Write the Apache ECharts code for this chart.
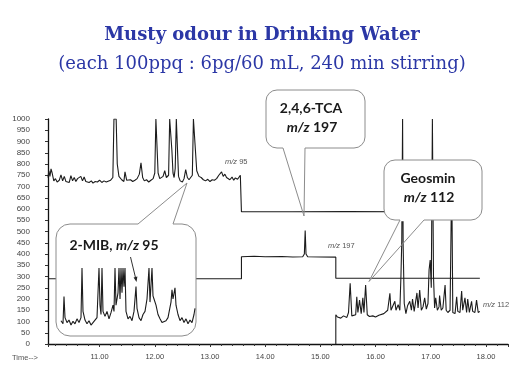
<!DOCTYPE html>
<html>
<head>
<meta charset="utf-8">
<script src="https://cdn.jsdelivr.net/npm/echarts@6/dist/echarts.min.js"></script>
<style>html,body{margin:0;padding:0;background:#fff;}#c{width:524px;height:380px;}</style>
</head>
<body>
<div id="c"></div>
<script>
// ---------- Data ----------
const titleText = 'Musty odour in Drinking Water';
const subtitleText = '(each 100ppq : 6pg/60 mL, 240 min stirring)';

// m/z 95 trace (2-MIB channel), time in min, abundance
const mz95Time = [10.065,10.08,10.10,10.12,10.14,10.17,10.20,10.23,10.27,10.30,
  10.33,10.36,10.39,10.42,10.45,10.48,10.51,10.54,10.57,10.60,
  10.63,10.66,10.69,10.72,10.75,10.78,10.81,10.85,10.88,10.92,
  10.96,11.00,11.04,11.08,11.12,11.15,11.20,11.24,11.26,11.30,
  11.32,11.35,11.40,11.44,11.46,11.49,11.52,11.56,11.60,11.64,
  11.68,11.72,11.75,11.78,11.81,11.85,11.89,11.93,11.97,12.00,
  12.02,12.04,12.06,12.09,12.12,12.15,12.18,12.21,12.25,12.27,
  12.29,12.31,12.33,12.35,12.37,12.39,12.41,12.43,12.46,12.50,
  12.53,12.56,12.59,12.62,12.65,12.68,12.70,12.73,12.76,12.80,
  12.84,12.88,12.92,12.96,13.00,13.04,13.08,13.12,13.16,13.21,
  13.24,13.27,13.30,13.33,13.36,13.40,13.43,13.46,13.50,13.53,
  13.55,13.57,13.57,14.50,15.50,16.50,17.89];
const mz95Value = [740,770,745,778,760,725,735,720,728,752,
  725,745,722,730,718,748,725,740,722,735,
  728,745,725,742,722,730,718,725,715,722,
  720,728,718,725,720,722,728,740,1000,1000,
  800,745,730,722,765,728,725,730,722,728,
  735,755,805,740,725,730,720,728,735,760,
  1000,1000,760,735,730,745,770,740,750,1000,
  1000,860,760,740,780,1000,1000,745,725,720,
  735,775,740,730,735,750,1000,1000,770,745,
  740,730,725,732,722,730,728,735,750,765,
  745,755,740,748,730,742,728,738,732,735,
  750,745,588,588,589,588,588];

// m/z 197 trace (2,4,6-TCA channel)
const tcaTime = [10.065,13.57,13.57,13.80,14.00,14.30,14.50,14.68,14.71,14.725,14.74,14.77,15.00,15.28,15.28,17.89];
const tcaValue = [290,290,388,390,388,389,387,388,400,504,400,388,387,386,292,292];

// m/z 112 trace (Geosmin channel)
const geoTime = [15.28,15.28,15.31,15.37,15.42,15.48,15.51,15.54,15.57,15.60,
  15.64,15.66,15.68,15.71,15.74,15.77,15.79,15.82,15.85,15.89,
  15.95,16.00,16.06,16.09,16.15,16.18,16.22,16.26,16.28,16.31,
  16.35,16.37,16.41,16.44,16.46,16.475,16.49,16.50,16.52,16.55,
  16.58,16.62,16.65,16.67,16.70,16.75,16.77,16.80,16.83,16.86,
  16.89,16.92,16.95,16.97,16.99,17.01,17.03,17.05,17.07,17.09,
  17.12,17.15,17.16,17.19,17.22,17.26,17.28,17.31,17.35,17.38,
  17.40,17.44,17.47,17.49,17.53,17.56,17.58,17.62,17.65,17.67,
  17.70,17.74,17.76,17.80,17.83,17.86,17.89];
const geoValue = [0,130,120,115,125,118,140,270,125,120,
  130,210,140,195,135,205,140,262,130,122,
  125,120,128,125,135,140,150,225,150,145,
  190,150,175,150,300,455,1000,440,180,135,
  170,190,150,200,145,227,160,240,150,165,
  205,155,180,330,373,250,1000,300,160,205,
  150,165,215,150,160,262,150,140,150,750,
  140,135,210,145,140,235,150,205,140,200,
  140,190,145,140,195,140,145];

// Inset (magnified 2-MIB m/z 95 region), relative position / relative height (100 = clipped)
const insetX = [0,2,3,4,6,8,10,12,14,16,18,20,21,22,24,26,28,30,32,34,
  36,38,39,40,41,42,44,46,48,50,52,53,54,55,57,58,59,60,61,62,
  63,64,65,67,69,71,73,75,76,78,80,82,84,86,88,89,91,92,93,95,
  97,99,101,103,105,107,110,111,112,114,115,117,119,121,123,125,127,129,131,133,134];
const insetY = [15,10,54,20,12,16,8,14,10,18,12,20,100,30,16,10,15,8,12,14,
  20,100,40,25,100,30,22,30,18,28,40,30,100,40,60,100,50,100,60,100,
  70,100,30,18,22,15,30,70,35,20,15,25,30,50,100,45,100,55,50,40,
  25,18,12,10,15,20,45,65,50,68,40,25,15,20,12,18,10,16,12,25,35];

const yMin = 0, yMax = 1000, yStep = 50;
const xMin = 10.065, xMax = 18.4;

// ---------- Build ----------
const zip = (a, b) => a.map((v, i) => [v, b[i]]);
const traceColor = '#1c1c1c';
const boxStroke = '#8c8c8c';

function callout(x, y, w, h, r, b1, b2, baseY, tip) {
  return [
    {type:'rect', z:10, shape:{x:x, y:y, width:w, height:h, r:r}, style:{fill:'#fff', stroke:boxStroke, lineWidth:1}},
    {type:'line', z:11, shape:{x1:b1, y1:baseY, x2:b2, y2:baseY}, style:{stroke:'#fff', lineWidth:2.5}},
    {type:'polyline', z:12, shape:{points:[[b1, baseY], tip, [b2, baseY]]}, style:{stroke:boxStroke, lineWidth:1, fill:null}}
  ];
}
function mzText(x, y, num, size, weight, color, align, family) {
  const base = {fontWeight:weight, fontSize:size, fontFamily:family, fill:color};
  return {type:'text', z:13, x:x, y:y, style:{
    text:'{i|m/z} {n|' + num + '}', align:align, verticalAlign:'middle',
    font: weight + ' ' + size + 'px ' + family, fill:color,
    rich:{i:Object.assign({fontStyle:'italic'}, base), n:base}
  }};
}
function plainText(x, y, txt, size, weight, color, align, family) {
  return {type:'text', z:13, x:x, y:y, style:{text:txt, align:align, verticalAlign:'middle',
    font: weight + ' ' + size + 'px ' + family, fill:color}};
}

const graphics = [].concat(
  callout(56, 224, 140, 112, 14, 138, 173, 224, [187, 183]),
  callout(266, 90, 99, 58, 11, 283, 305, 148, [304, 216]),
  callout(384, 160, 98, 60, 11, 400, 424, 220, [369, 281.5]),
  [
    plainText(116, 245, '2-MIB, ', 14, 'bold', '#1a1a1a', 'right', 'Lato'),
    mzText(116, 245, '95', 14, 'bold', '#1a1a1a', 'left', 'Lato'),
    plainText(311, 108, '2,4,6-TCA', 14, 'bold', '#1a1a1a', 'center', 'Lato'),
    mzText(312, 127, '197', 14, 'bold', '#1a1a1a', 'center', 'Lato'),
    plainText(428, 178, 'Geosmin', 14, 'bold', '#1a1a1a', 'center', 'Lato'),
    mzText(429, 197, '112', 14, 'bold', '#1a1a1a', 'center', 'Lato'),
    {type:'line', z:21, shape:{x1:130.5, y1:257, x2:135.6, y2:278}, style:{stroke:'#333', lineWidth:1}},
    {type:'polygon', z:21, shape:{points:[[136.5, 282], [133.6, 277.4], [137.4, 276.5]]}, style:{fill:'#222'}},
    mzText(225, 162, '95', 7.5, 'normal', '#555', 'left', 'Liberation Sans'),
    mzText(328, 246, '197', 7.5, 'normal', '#555', 'left', 'Liberation Sans'),
    mzText(483, 305, '112', 7.5, 'normal', '#555', 'left', 'Liberation Sans'),
    plainText(12, 358, 'Time-->', 7.5, 'normal', '#555', 'left', 'Liberation Sans')
  ]
);

const chart = echarts.init(document.getElementById('c'), null, {renderer:'canvas'});
chart.setOption({
  animation: false,
  backgroundColor: '#fff',
  title: [
    {text: titleText, left: 'center', top: 21,
     textStyle: {fontFamily: 'DejaVu Serif', fontWeight: 'bold', fontSize: 18, color: '#2b37a6'}},
    {text: subtitleText, left: 'center', top: 50,
     textStyle: {fontFamily: 'DejaVu Serif', fontWeight: 'normal', fontSize: 18, color: '#2b37a6'}}
  ],
  grid: [
    {left: 48, top: 119, width: 460, height: 225},
    {left: 61, top: 268, width: 134, height: 62}
  ],
  xAxis: [
    {type: 'value', gridIndex: 0, min: xMin, max: xMax, splitNumber: 8,
     axisLine: {lineStyle: {color: '#111', width: 1.3}},
     axisTick: {length: 3, lineStyle: {color: '#333'}},
     minorTick: {show: true, splitNumber: 5, length: 2, lineStyle: {color: '#333'}},
     axisLabel: {showMinLabel: false, showMaxLabel: false, formatter: v => v.toFixed(2),
       fontFamily: 'Liberation Sans', fontSize: 7.5, color: '#444', margin: 9},
     splitLine: {show: false}},
    {type: 'value', gridIndex: 1, min: 0, max: 134, show: false}
  ],
  yAxis: [
    {type: 'value', gridIndex: 0, min: yMin, max: yMax, interval: yStep,
     axisLine: {show: true, lineStyle: {color: '#111', width: 1.3}},
     axisTick: {show: true, length: 3, lineStyle: {color: '#333'}},
     axisLabel: {formatter: v => String(v), fontFamily: 'Liberation Sans', fontSize: 8, color: '#444', margin: 18},
     splitLine: {show: false}},
    {type: 'value', gridIndex: 1, min: 0, max: 100, show: false}
  ],
  series: [
    {type: 'line', name: 'm/z 95', xAxisIndex: 0, yAxisIndex: 0, data: zip(mz95Time, mz95Value),
     symbol: 'none', lineStyle: {color: traceColor, width: 1.1}, z: 2},
    {type: 'line', name: 'm/z 197', xAxisIndex: 0, yAxisIndex: 0, data: zip(tcaTime, tcaValue),
     symbol: 'none', lineStyle: {color: traceColor, width: 1.1}, z: 2},
    {type: 'line', name: 'm/z 112', xAxisIndex: 0, yAxisIndex: 0, data: zip(geoTime, geoValue),
     symbol: 'none', lineStyle: {color: traceColor, width: 1.1}, z: 2},
    {type: 'line', name: 'inset', xAxisIndex: 1, yAxisIndex: 1, data: zip(insetX, insetY),
     symbol: 'none', lineStyle: {color: traceColor, width: 1.1}, z: 20}
  ],
  graphic: graphics
});
</script>
</body>
</html>
